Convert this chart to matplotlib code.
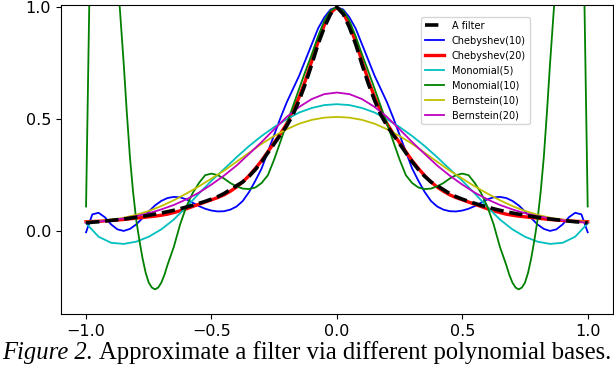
import numpy as np
import matplotlib
matplotlib.use("Agg")
import matplotlib.pyplot as plt

# sample positions
x_fine = np.linspace(-1, 1, 81)
x_coarse = np.linspace(-1, 1, 41)
# denser near the edges, where Monomial(10) swings hard
x_mono10 = np.r_[np.linspace(-1, -0.6, 33), np.linspace(-0.575, 0.575, 47),
                 np.linspace(0.6, 1, 33)]

a_filter = [0.037, 0.04, 0.042, 0.045, 0.048, 0.051, 0.054, 0.058, 0.062, 0.066,
            0.071, 0.076, 0.081, 0.087, 0.093, 0.1, 0.108, 0.115, 0.124, 0.133,
            0.143, 0.154, 0.168, 0.185, 0.203, 0.22, 0.245, 0.275, 0.31, 0.35,
            0.39, 0.43, 0.47, 0.52, 0.585, 0.66, 0.745, 0.835, 0.91, 0.97,
            1.0,
            0.97, 0.91, 0.835, 0.745, 0.66, 0.585, 0.52, 0.47, 0.43, 0.39,
            0.35, 0.31, 0.275, 0.245, 0.22, 0.203, 0.185, 0.168, 0.154, 0.143,
            0.133, 0.124, 0.115, 0.108, 0.1, 0.093, 0.087, 0.081, 0.076, 0.071,
            0.066, 0.062, 0.058, 0.054, 0.051, 0.048, 0.045, 0.042, 0.04, 0.037]

cheb10 = [-0.005, 0.075, 0.082, 0.062, 0.03, 0.008, 0.001, 0.01, 0.03, 0.058,
          0.088, 0.115, 0.135, 0.148, 0.153, 0.151, 0.142, 0.127, 0.112, 0.1,
          0.092, 0.088, 0.089, 0.096, 0.11, 0.135, 0.175, 0.225, 0.28, 0.355,
          0.43, 0.505, 0.575, 0.635, 0.695, 0.765, 0.835, 0.905, 0.955, 0.99,
          1.0,
          0.99, 0.955, 0.905, 0.835, 0.765, 0.695, 0.635, 0.575, 0.505, 0.43,
          0.355, 0.28, 0.225, 0.175, 0.135, 0.11, 0.096, 0.089, 0.088, 0.092,
          0.1, 0.112, 0.127, 0.142, 0.151, 0.153, 0.148, 0.135, 0.115, 0.088,
          0.058, 0.03, 0.01, 0.001, 0.008, 0.03, 0.062, 0.082, 0.075, -0.005]

cheb20 = [0.042, 0.043, 0.044, 0.046, 0.048, 0.05, 0.052, 0.055, 0.058, 0.061,
          0.064, 0.067, 0.071, 0.076, 0.083, 0.091, 0.1, 0.11, 0.12, 0.13,
          0.14, 0.15, 0.162, 0.178, 0.197, 0.22, 0.248, 0.28, 0.315, 0.355,
          0.395, 0.435, 0.48, 0.535, 0.6, 0.675, 0.76, 0.845, 0.92, 0.975,
          1.0,
          0.975, 0.92, 0.845, 0.76, 0.675, 0.6, 0.535, 0.48, 0.435, 0.395,
          0.355, 0.315, 0.28, 0.248, 0.22, 0.197, 0.178, 0.162, 0.15, 0.14,
          0.13, 0.12, 0.11, 0.1, 0.091, 0.083, 0.076, 0.071, 0.067, 0.064,
          0.061, 0.058, 0.055, 0.052, 0.05, 0.048, 0.046, 0.044, 0.043, 0.042]

# values above 1.0 near the edges run off the top of the axes
mono10 = [0.11, 0.99, 1.8, 2.1, 2.2, 2.1, 2.0, 1.8, 1.6, 1.38, 1.15,
          0.95, 0.75, 0.53, 0.33, 0.175, 0.05, -0.04, -0.12, -0.185, -0.23,
          -0.252, -0.26, -0.252, -0.23, -0.195, -0.15, -0.11, -0.07, -0.02, 0.03,
          0.07, 0.11,
          0.17, 0.215, 0.25, 0.257, 0.25, 0.235, 0.215, 0.2, 0.19, 0.188,
          0.195, 0.215, 0.25, 0.32, 0.4, 0.48, 0.558, 0.637, 0.715, 0.79,
          0.87, 0.94, 0.985,
          1.0,
          0.985, 0.94, 0.87, 0.79, 0.715, 0.637, 0.558, 0.48, 0.4, 0.32,
          0.25, 0.215, 0.195, 0.188, 0.19, 0.2, 0.215, 0.235, 0.25, 0.257,
          0.25, 0.215, 0.17,
          0.11, 0.07, 0.03, -0.02, -0.07, -0.11, -0.15, -0.195, -0.23, -0.252,
          -0.26, -0.252, -0.23, -0.185, -0.12, -0.04, 0.05, 0.175, 0.33, 0.53,
          0.75, 0.95, 1.15, 1.38, 1.6, 1.8, 2.0, 2.1, 2.2, 2.1,
          1.8, 0.99, 0.11]

mono5 = [0.035, -0.025, -0.052, -0.057, -0.047, -0.025, 0.008, 0.052, 0.108, 0.168,
         0.225, 0.277, 0.33, 0.38, 0.425, 0.465, 0.5, 0.53, 0.55, 0.563,
         0.567,
         0.563, 0.55, 0.53, 0.5, 0.465, 0.425, 0.38, 0.33, 0.277, 0.225,
         0.168, 0.108, 0.052, 0.008, -0.025, -0.047, -0.057, -0.052, -0.025, 0.035]

bern10 = [0.042, 0.045, 0.051, 0.06, 0.073, 0.09, 0.112, 0.138, 0.168, 0.2,
          0.235, 0.27, 0.31, 0.35, 0.39, 0.425, 0.455, 0.48, 0.497, 0.507,
          0.51,
          0.507, 0.497, 0.48, 0.455, 0.425, 0.39, 0.35, 0.31, 0.27, 0.235,
          0.2, 0.168, 0.138, 0.112, 0.09, 0.073, 0.06, 0.051, 0.045, 0.042]

bern20 = [0.038, 0.043, 0.049, 0.057, 0.067, 0.08, 0.097, 0.117, 0.142, 0.172,
          0.208, 0.248, 0.293, 0.345, 0.398, 0.455, 0.51, 0.555, 0.59, 0.612,
          0.619,
          0.612, 0.59, 0.555, 0.51, 0.455, 0.398, 0.345, 0.293, 0.248, 0.208,
          0.172, 0.142, 0.117, 0.097, 0.08, 0.067, 0.057, 0.049, 0.043, 0.038]

fig = plt.figure(figsize=(6.14, 3.78), dpi=100)
ax = fig.add_axes([0.0993, 0.1693, 0.8987, 0.8175])

ax.plot(x_fine, a_filter, 'k--', lw=2.6, label='A filter', zorder=3)
ax.plot(x_fine, cheb10, 'b', lw=1.3, label='Chebyshev(10)')
ax.plot(x_fine, cheb20, 'r', lw=2.4, label='Chebyshev(20)')
ax.plot(x_coarse, mono5, 'c', lw=1.3, label='Monomial(5)')
ax.plot(x_mono10, mono10, 'g', lw=1.3, label='Monomial(10)')
ax.plot(x_coarse, bern10, 'y', lw=1.3, label='Bernstein(10)')
ax.plot(x_coarse, bern20, 'm', lw=1.3, label='Bernstein(20)')

ax.set_xlim(-1.1, 1.1)
ax.set_ylim(-0.37, 1.01)
ax.set_xticks([-1.0, -0.5, 0.0, 0.5, 1.0])
ax.set_yticks([0.0, 0.5, 1.0])
ax.tick_params(labelsize=11.5)

ax.legend(loc='upper left', bbox_to_anchor=(0.643, 0.977), fontsize=7)

# caption: italic "Figure 2." followed by regular text
cap1 = fig.text(0.004, 0.05, 'Figure 2.', family='Liberation Serif',
                style='italic', fontsize=17.7)
fig.canvas.draw()
bb = cap1.get_window_extent()
fig.text(bb.x1 / fig.bbox.width + 0.009, 0.05,
         'Approximate a filter via different polynomial bases.',
         family='Liberation Serif', fontsize=17.7)

fig.savefig('out.png', dpi=100)
